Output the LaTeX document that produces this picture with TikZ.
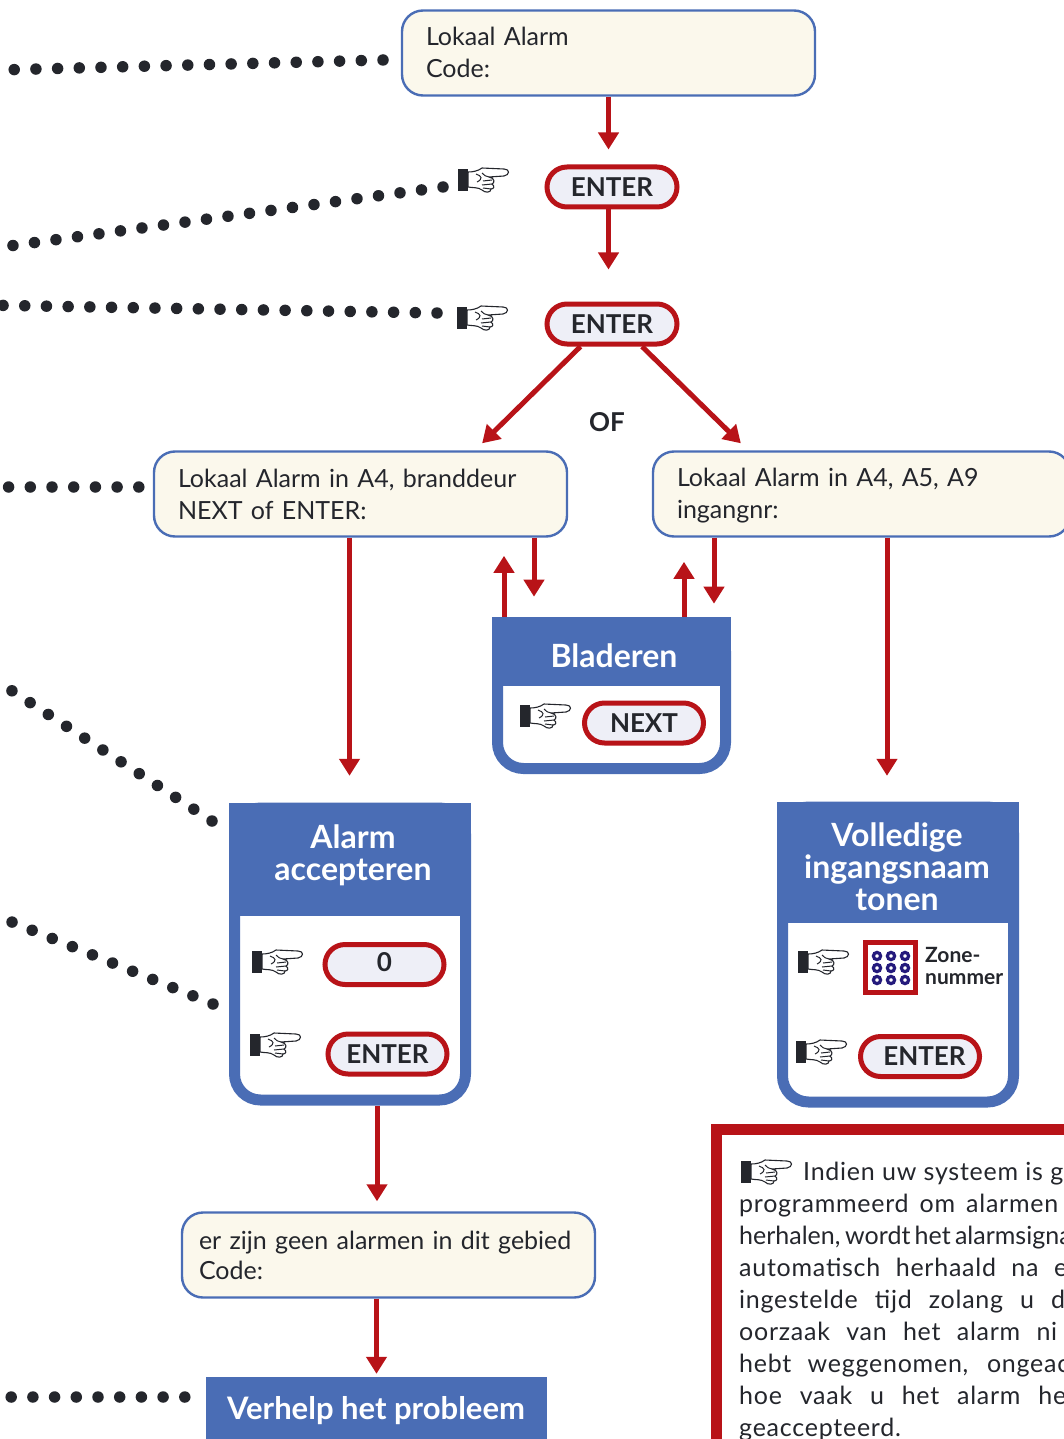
\documentclass[tikz,border=0pt]{standalone}
\usepackage{fontspec}
\setmainfont{Lato}
\newfontfamily\notefont[LetterSpace=3]{Lato}
\usetikzlibrary{arrows.meta, positioning}
\definecolor{gered}{HTML}{B81318}
\definecolor{geblue}{HTML}{4A6DB5}
\definecolor{gecream}{HTML}{FBF8EC}
\definecolor{gepill}{HTML}{EEEFF7}
\definecolor{genavy}{HTML}{241A7C}
\definecolor{geink}{HTML}{24262C}
\newcommand{\noteline}[2]{\makebox[#1pt][s]{#2}}
\tikzset{
  msg/.style={draw=geblue, line width=2.4pt, fill=gecream, rounded corners=21pt, minimum height=85pt,
    text width=365pt, align=left, inner sep=0pt, text=geink, font=\fontsize{25}{32}\selectfont},
  pill/.style={draw=gered, line width=5pt, fill=gepill, rounded corners=20pt, minimum width=119pt, minimum height=40pt,
    inner sep=0pt, text=geink, font=\fontsize{26}{32}\selectfont\bfseries},
  panel/.style={draw=geblue, line width=11pt, fill=white, rounded corners=26pt, inner sep=0pt},
  head/.style={fill=geblue, inner sep=0pt},
  title/.style={text=white, inner sep=0pt, align=center, font=\fontsize{32}{32}\selectfont\bfseries},
  flow/.style={draw=gered, line width=5pt, -{Triangle[length=17pt,width=20pt]}},
  dots/.style={line cap=round, line width=11.5pt, dash pattern=on 0pt off 21.7pt, draw=geink},
  hand/.pic={
    \fill[geink] (0,1) rectangle (10,23);
    \draw[geink, fill=white, line width=1.1pt, line join=round]
      (10,4) .. controls (15,4) and (20,3) .. (24,0) -- (46,1)
      .. controls (52,1) and (52,7) .. (46,8) -- (31,9)
      .. controls (37,10) and (37,15) .. (34,16)
      .. controls (37,18) and (36,21) .. (33,21)
      .. controls (33,25) and (27,25) .. (24,22)
      .. controls (20,19) and (15,20) .. (10,19) -- cycle;
    \draw[geink, line width=1pt]
      (18,6) .. controls (24,8) and (25,11) .. (19,14)
      (24,5) .. controls (26,7) and (28,9) .. (31,9)
      (25,13) -- (34,12) (24,17) -- (34,16) (25,20) -- (33,21);
  }
}
\begin{document}
\begin{tikzpicture}[x=1pt, y=-1pt, on grid]
  \useasboundingbox (0,0) rectangle (1064,1439);
  \clip (0,0) rectangle (1064,1439);
  % top of the flow
  \node[msg, minimum width=413pt] (code) at (608.5,53) {Lokaal Alarm\\[-.2pt]Code:\vspace*{2pt}};
  \node[pill, minimum width=130pt] (enter1) [below=134pt of code, xshift=3.5pt] {ENTER};
  \node[pill, minimum width=130pt] (enter2) [below=137pt of enter1] {ENTER};
  \pic at (458,168) {hand};
  \pic at (457,306) {hand};
  \node[font=\fontsize{26}{32}\selectfont\bfseries, text=geink] (ofword) at (607,422) {OF};
  \node[msg, minimum width=413pt] (alarmL) at (360.5,494) {Lokaal Alarm in A4, branddeur\\NEXT of ENTER:};
  \node[msg, minimum width=417pt, text width=369pt] (alarmR) [right=501pt of alarmL] {Lokaal Alarm in A4, A5, A9\\ingangnr:\vspace*{-4pt}};
  % bladeren
  \node[panel, minimum width=228pt, minimum height=143pt] (browse) at (611.5,697) {};
  \node[head, minimum width=239pt, minimum height=69pt] (browseh) at (611.5,651.5) {};
  \node[title] (browset) at (614,656) {Bladeren};
  \pic at (520,704) {hand};
  \node[pill] (next) at (644,723) {NEXT};
  % alarm accepteren
  \node[panel, minimum width=231pt, minimum height=292pt] (accept) at (350,954) {};
  \node[head, minimum width=242pt, minimum height=113pt] (accepth) at (350,859.5) {};
  \node[title] (acceptt) at (353,855) {Alarm\\accepteren};
  \pic at (252,950) {hand};
  \pic at (250,1033) {hand};
  \node[pill, text depth=6pt] (zero) at (384.5,964.5) {0};
  \node[pill] (enter3) at (387.5,1054) {ENTER};
  % volledige ingangsnaam
  \node[panel, minimum width=231pt, minimum height=295pt] (full) at (898,954.5) {};
  \node[head, minimum width=242pt, minimum height=121pt] (fullh) at (898,862.5) {};
  \node[title] (fullt) at (897,866.5) {Volledige\\ingangsnaam\\tonen};
  \pic at (798,950) {hand};
  \pic at (796,1040) {hand};
  \node[draw=gered, line width=5pt, fill=white, minimum size=50pt, inner sep=0pt] (keys) at (890.5,967.5) {};
  \foreach \kx in {877,891,905}
    \foreach \ky in {956,968,980}
      \draw[genavy, line width=3.2pt] (\kx,\ky) circle (3.6pt);
  \node[anchor=west, align=left, inner sep=0pt, text=geink, font=\fontsize{21}{22}\selectfont\bfseries] (zone) at (925,966) {Zone-\\nummer};
  \node[pill] (enter4) at (920,1056.5) {\hspace*{9pt}ENTER};
  % bottom of the flow
  \node[msg, minimum width=413pt, text width=379pt] (none) at (388.5,1255) {er zijn geen alarmen in dit gebied\\[-2pt]Code:};
  \node[head, minimum width=341pt, minimum height=64pt] (fix) at (376.5,1409) {};
  \node[title, font=\fontsize{31}{32}\selectfont\bfseries] (fixt) at (376,1411) {Verhelp het probleem};
  % note
  \node[draw=gered, line width=11pt, fill=white, minimum width=400pt, minimum height=400pt, anchor=north west] (notebox) at (711,1124) {};
  \node[anchor=north west, align=left, inner sep=0pt, text=geink, font=\fontsize{25}{32}\selectfont\notefont] (note) at (739,1162)
    {\noteline{324}{\hspace*{64pt}Indien uw systeem is g}\\
     \noteline{319}{programmeerd om alarmen}\\
     \noteline{330}{\normalfont herhalen, wordt het alarmsigna}\\
     \noteline{328}{automatisch herhaald na e}\\
     \noteline{326}{ingestelde tijd zolang u d}\\
     \noteline{318}{oorzaak van het alarm ni}\\
     \noteline{330}{hebt weggenomen, ongeac}\\
     \noteline{327}{hoe vaak u het alarm he}\\
     geaccepteerd.};
  \pic at (741,1160) {hand};
  % flow arrows
  \draw[flow, shorten >=15pt] (code.south) -- (code.south |- enter1.north);
  \draw[flow, shorten >=32pt] (code.south |- enter1.south) -- (code.south |- enter2.north);
  \draw[flow, shorten >=10pt] ([xshift=-31.5pt]enter2.south) -- ([xshift=114.5pt]alarmL.north);
  \draw[flow, shorten >=10pt] ([xshift=30pt]enter2.south) -- ([xshift=-113.5pt]alarmR.north);
  \draw[flow, shorten >=27pt] ([xshift=-11pt]alarmL.south) -- ([xshift=-11pt]alarmL.south |- accepth.north);
  \draw[flow] ([xshift=173.5pt]alarmL.south) -- ++(0,59);
  \draw[flow] ([xshift=-107.5pt]browseh.north) -- ++(0,-61);
  \draw[flow] ([xshift=72.5pt]browseh.north) -- ++(0,-55);
  \draw[flow] ([xshift=-147.5pt]alarmR.south) -- ++(0,66);
  \draw[flow, shorten >=26pt] ([xshift=25.5pt]alarmR.south) -- ([xshift=25.5pt]alarmR.south |- fullh.north);
  \draw[flow, shorten >=10pt] ([xshift=27pt]accept.south) -- ([xshift=27pt]accept.south |- none.north);
  \draw[flow, shorten >=3pt] (none.south -| fix.north) -- (fix.north);
  % dotted leaders, from the diagram out to the left
  \coordinate (from1) at (383,60);
  \coordinate (from2) at (443,187);
  \coordinate (from3) at (437,313);
  \coordinate (from5) at (212,821);
  \coordinate (from6) at (213,1004);
  \coordinate (lead1) at (-20,70.5);
  \coordinate (lead2) at (-20,250);
  \coordinate (lead3) at (-20,305);
  \coordinate (lead4) at (-20,487);
  \coordinate (lead5) at (-20,670);
  \coordinate (lead6) at (-20,909);
  \coordinate (lead7) at (-20,1397);
  \draw[dots] (from1) -- (lead1);
  \draw[dots] (from2) -- (lead2);
  \draw[dots] (from3) -- (lead3);
  \draw[dots, shorten <=14pt] (alarmL.west |- lead4) -- (lead4);
  \draw[dots] (from5) -- (lead5);
  \draw[dots] (from6) -- (lead6);
  \draw[dots, shorten <=21pt] (fix.west |- lead7) -- (lead7);
\end{tikzpicture}
\end{document}
